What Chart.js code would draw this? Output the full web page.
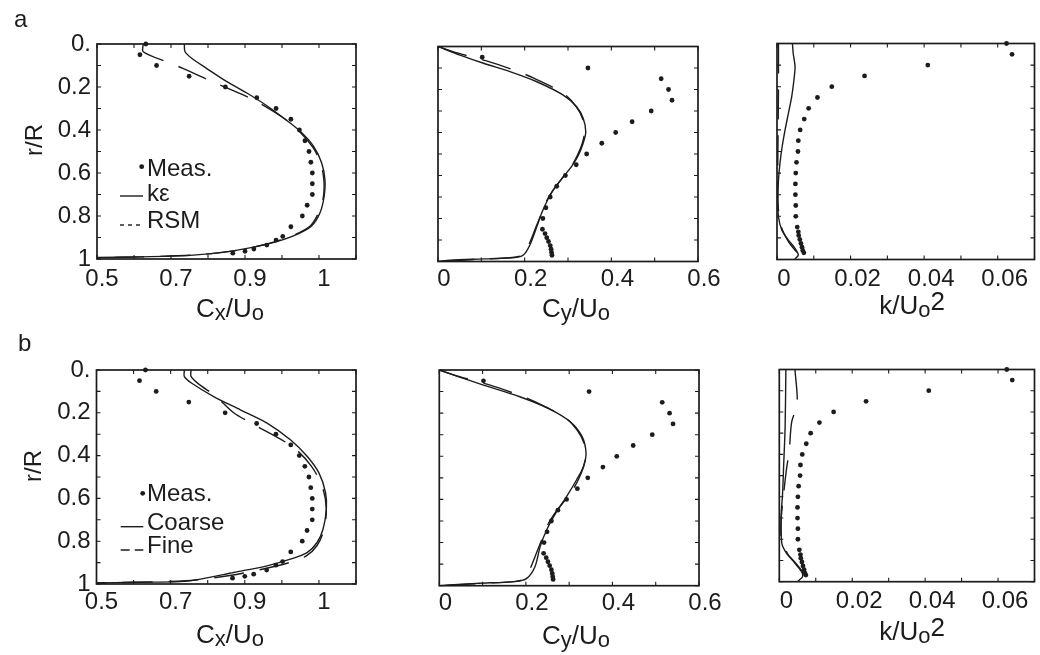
<!DOCTYPE html>
<html><head><meta charset="utf-8">
<script src="https://cdn.jsdelivr.net/npm/chart.js@4.4.1/dist/chart.umd.min.js"></script>
<style>
html,body{margin:0;padding:0;background:#fff;}
#wrap{position:relative;width:1040px;height:655px;overflow:hidden;background:#fff;}
#wrap canvas{position:absolute;}
</style></head><body><div id="wrap"></div>
<script>
// ---------------- tick values / labels ----------------
const rTicks = [0,0.1,0.2,0.3,0.4,0.5,0.6,0.7,0.8,0.9,1];
const rTickLabels = ['0.','','0.2','','0.4','','0.6','','0.8','','1'];
const cxTicks = [0.5,0.6,0.7,0.8,0.9,1.0,1.1,1.2];
const cxTickLabels = ['0.5','','0.7','','0.9','','1',''];
const cyTicks = [0,0.1,0.2,0.3,0.4,0.5,0.6];
const cyTickLabels = ['0','','0.2','','0.4','','0.6'];
const kTicks = [0,0.01,0.02,0.03,0.04,0.05,0.06,0.07];
const kTickLabels = ['0','','0.02','','0.04','','0.06',''];

// ---------------- measurements (same in a and b) ----------------
const cxMeasR = [0,0.05,0.1,0.15,0.2,0.25,0.3,0.35,0.4,0.45,0.5,0.55,0.6,0.65,0.7,0.75,0.8,0.85,0.895,0.912,0.935,0.954,0.964,0.973];
const cxMeas  = [0.632,0.616,0.661,0.749,0.847,0.932,0.984,1.024,1.047,1.062,1.073,1.078,1.082,1.082,1.082,1.068,1.055,1.024,1.002,0.984,0.959,0.924,0.900,0.867];
const cyMeasR = [0.05,0.1,0.15,0.2,0.25,0.3,0.35,0.4,0.45,0.5,0.55,0.6,0.65,0.7,0.75,0.8,0.85,0.87,0.889,0.907,0.926,0.943,0.958,0.971];
const cyMeas  = [0.102,0.346,0.515,0.532,0.540,0.492,0.448,0.410,0.378,0.343,0.319,0.294,0.274,0.259,0.249,0.242,0.241,0.247,0.251,0.255,0.259,0.261,0.262,0.263];
const kMeasR  = [0,0.05,0.1,0.15,0.2,0.25,0.3,0.35,0.4,0.45,0.5,0.55,0.6,0.65,0.7,0.75,0.8,0.85,0.872,0.889,0.907,0.926,0.943,0.958,0.969];
const kMeas   = [0.0624,0.0639,0.041,0.0238,0.0149,0.0110,0.0086,0.0074,0.0063,0.0058,0.0057,0.0053,0.0051,0.0050,0.0050,0.0051,0.0051,0.0055,0.0058,0.0059,0.0062,0.0065,0.0068,0.0070,0.0073];

// ---------------- (a) k-epsilon vs RSM ----------------
const cxKeR  = [0,0.036,0.066,0.113,0.175,0.228,0.287,0.344,0.406,0.475,0.552,0.630,0.707,0.784,0.846,0.892,0.931,0.962,0.982,0.990,0.993];
const cxKe   = [0.736,0.738,0.756,0.796,0.851,0.905,0.959,1.004,1.049,1.085,1.107,1.116,1.114,1.103,1.080,1.031,0.959,0.868,0.76,0.62,0.5];
const cxRsmR = [0,0.036,0.085,0.113,0.177,0.204,0.259,0.343,0.41,0.48,0.55,0.63,0.71,0.78,0.845,0.89,0.93,0.962,0.982,0.990,0.994];
const cxRsm  = [0.625,0.625,0.691,0.732,0.814,0.851,0.922,1.003,1.049,1.083,1.104,1.113,1.112,1.100,1.077,1.030,0.960,0.870,0.76,0.62,0.5];
const cyKeR  = [0,0.04,0.078,0.117,0.164,0.226,0.28,0.334,0.396,0.45,0.505,0.559,0.606,0.667,0.722,0.776,0.838,0.923,0.97,0.982,0.988,0.994,1.0];
const cyKe   = [0,0.051,0.105,0.166,0.228,0.289,0.32,0.335,0.341,0.335,0.324,0.308,0.289,0.266,0.251,0.239,0.228,0.212,0.197,0.178,0.105,0.028,0];
const cyRsmR = [0,0.03,0.067,0.117,0.148,0.218,0.277,0.342,0.40,0.45,0.505,0.56,0.61,0.67,0.72,0.78,0.84,0.92,0.968,0.98,0.99,1.0];
const cyRsm  = [0,0.045,0.112,0.185,0.222,0.289,0.318,0.335,0.338,0.333,0.322,0.307,0.288,0.265,0.25,0.238,0.226,0.21,0.196,0.176,0.09,0];
const kKeR   = [0,0.045,0.107,0.169,0.246,0.323,0.40,0.478,0.555,0.632,0.725,0.802,0.863,0.91,0.948,0.979,0.994,1.0];
const kKe    = [0.0042,0.0044,0.0049,0.0046,0.0040,0.0031,0.0022,0.0014,0.0008,0.0004,0.0002,0.0004,0.0013,0.0031,0.0049,0.0058,0.0051,0.0048];
const kRsmR  = [0,0.2,0.4,0.6,0.75,0.85,0.92,0.955,0.985,1.0];
const kRsm   = [0.0004,0.0004,0.0003,0.0002,0.0003,0.0012,0.0032,0.0048,0.0062,0.0052];

// ---------------- (b) coarse vs fine grid ----------------
const cxCoarseR = [0,0.031,0.062,0.124,0.186,0.248,0.326,0.403,0.481,0.574,0.651,0.744,0.806,0.853,0.884,0.915,0.946,0.977,0.989,0.992,0.995];
const cxCoarse  = [0.737,0.737,0.757,0.816,0.888,0.96,1.023,1.068,1.10,1.118,1.12,1.111,1.095,1.068,1.023,0.96,0.870,0.78,0.726,0.6,0.5];
const cxFineR   = [0,0.03,0.065,0.12,0.2,0.26,0.36,0.45,0.55,0.65,0.75,0.82,0.87,0.9,0.93,0.96,0.985,0.995];
const cxFine    = [0.755,0.755,0.775,0.82,0.87,0.93,1.03,1.08,1.11,1.12,1.113,1.095,1.065,1.02,0.95,0.86,0.74,0.5];
const cyCoarseR = [0,0.07,0.124,0.182,0.239,0.309,0.386,0.449,0.51,0.587,0.657,0.742,0.819,0.912,0.966,0.981,0.989,1.0];
const cyCoarse  = [0,0.102,0.186,0.256,0.302,0.33,0.339,0.333,0.317,0.294,0.271,0.248,0.233,0.221,0.202,0.175,0.086,0];
const cyFineR   = [0,0.03,0.067,0.117,0.148,0.218,0.277,0.342,0.40,0.45,0.505,0.56,0.61,0.67,0.72,0.78,0.84,0.92,0.968,0.98,0.99,1.0];
const cyFine    = [0,0.045,0.112,0.185,0.222,0.289,0.318,0.335,0.338,0.333,0.322,0.307,0.288,0.265,0.25,0.238,0.226,0.21,0.196,0.176,0.09,0];
const kCoarseR  = [0,0.27,0.45,0.584,0.694,0.819,0.866,0.913,0.953,0.976,0.992,1.0];
const kCoarse   = [0.0018,0.0016,0.0012,0.0009,0.0005,0.0007,0.002,0.0043,0.0061,0.0064,0.0055,0.005];
const kFineR    = [0,0.16,0.247,0.388,0.466,0.6,0.71,0.80,0.866,0.913,0.953,0.976,0.992,1.0];
const kFine     = [0.0043,0.0049,0.0034,0.0027,0.002,0.0011,0.0005,0.0006,0.0022,0.0045,0.0063,0.0065,0.0056,0.005];

// ---------------- rendering ----------------
const FONT = "'Liberation Sans', Arial, Helvetica, sans-serif";
const INK = '#1c1c1c';
const TICK_LEN = 4;
const TICK_FONT = 24;

function pts(xs, rs){ return xs.map((v,i)=>({x:v, y:rs[i]})); }
function measSet(xs, rs){ return {data:pts(xs,rs), showLine:false, pointRadius:2.4, pointBackgroundColor:INK, pointBorderWidth:0, clip:false}; }
function lineSet(xs, rs, dash){ return {data:pts(xs,rs), showLine:true, pointRadius:0, borderColor:INK, borderWidth:1.4, tension:0.3, borderDash:dash||[], fill:false}; }

function drawRich(ctx, it){
  const main = it.size || 24;
  const parts = it.parts;
  let total = 0;
  parts.forEach(p=>{ ctx.font = (p.s||main)+'px '+FONT; p._w = ctx.measureText(p.t).width; total += p._w; });
  ctx.save();
  ctx.translate(it.x, it.y);
  if (it.rot) ctx.rotate(it.rot);
  let x = it.align==='left' ? 0 : -total/2;
  const base = 0.36*main;
  ctx.fillStyle = INK; ctx.textBaseline = 'alphabetic'; ctx.textAlign='left';
  parts.forEach(p=>{ ctx.font = (p.s||main)+'px '+FONT; ctx.fillText(p.t, x, base + (p.dy||0)); x += p._w; });
  ctx.restore();
}

const decor = {
  id:'decor',
  beforeDatasetsDraw(chart){
    const {ctx, chartArea:{left,top,right,bottom}, scales:{x:xs, y:ys}} = chart;
    ctx.save();
    ctx.strokeStyle = INK; ctx.lineWidth = 1.1;
    ctx.beginPath();
    xs.ticks.forEach(t=>{ const p = xs.getPixelForValue(t.value); ctx.moveTo(p,bottom); ctx.lineTo(p,bottom-TICK_LEN); ctx.moveTo(p,top); ctx.lineTo(p,top+TICK_LEN); });
    ys.ticks.forEach(t=>{ const p = ys.getPixelForValue(t.value); ctx.moveTo(left,p); ctx.lineTo(left+TICK_LEN,p); ctx.moveTo(right,p); ctx.lineTo(right-TICK_LEN,p); });
    ctx.stroke();
    ctx.lineWidth = 1.7;
    ctx.strokeRect(left, top, right-left, bottom-top);
    ctx.restore();
  },
  afterDraw(chart, args, opts){
    const ctx = chart.ctx;
    ctx.save();
    (opts.keys||[]).forEach(k=>{
      if (k.type==='dot'){ ctx.fillStyle=INK; ctx.beginPath(); ctx.arc(k.x,k.y,2.4,0,Math.PI*2); ctx.fill(); }
      else { ctx.strokeStyle=INK; ctx.lineWidth=1.4; ctx.setLineDash(k.dash||[]); ctx.beginPath(); ctx.moveTo(k.x1,k.y); ctx.lineTo(k.x2,k.y); ctx.stroke(); ctx.setLineDash([]); }
    });
    (opts.texts||[]).forEach(t=>drawRich(ctx,t));
    ctx.restore();
  }
};

const DASH = [30,16];
const TT = 26, SUB = 22, SUBDY = 3;
const cxTitle = [{t:'C'},{t:'x',s:SUB,dy:SUBDY},{t:'/U'},{t:'o',s:SUB,dy:SUBDY}];
const cyTitle = [{t:'C'},{t:'y',s:SUB,dy:SUBDY},{t:'/U'},{t:'o',s:SUB,dy:SUBDY}];
const kTitle  = [{t:'k/U'},{t:'o',s:SUB,dy:SUBDY},{t:'2',dy:-4}];

const panels = [
  {x:0, y:0, w:370, h:335, area:{l:97,t:44,r:356,b:259}, xmin:0.5, xmax:1.2, xt:cxTicks, xl:cxTickLabels, xpad:6, xoff:5, ylab:true,
   datasets:[measSet(cxMeas,cxMeasR), lineSet(cxKe,cxKeR), lineSet(cxRsm,cxRsmR,DASH)],
   texts:[{x:14,y:18,align:'left',parts:[{t:'a'}]}, {x:33,y:140,rot:-Math.PI/2,parts:[{t:'r/R'}]}, {x:230,y:308,size:TT,parts:cxTitle},
          {x:147,y:167,align:'left',parts:[{t:'Meas.'}]}, {x:147,y:192,align:'left',parts:[{t:'kε'}]}, {x:147,y:219,align:'left',parts:[{t:'RSM'}]}],
   keys:[{type:'dot',x:141.7,y:166.7},{type:'line',x1:120,x2:143,y:196},{type:'line',x1:120,x2:143,y:225,dash:[4,4]}]},
  {x:370, y:0, w:365, h:335, area:{l:68,t:46.5,r:328,b:261.5}, xmin:0, xmax:0.6, xt:cyTicks, xl:cyTickLabels, xpad:3.5, xoff:6, ylab:false,
   datasets:[measSet(cyMeas,cyMeasR), lineSet(cyKe,cyKeR), lineSet(cyRsm,cyRsmR,DASH)],
   texts:[{x:206,y:308,size:TT,parts:cyTitle}], keys:[]},
  {x:715, y:0, w:325, h:335, area:{l:62,t:43.5,r:321,b:259.5}, xmin:0, xmax:0.07, xt:kTicks, xl:kTickLabels, xpad:5.5, xoff:7, ylab:false,
   datasets:[measSet(kMeas,kMeasR), lineSet(kKe,kKeR), lineSet(kRsm,kRsmR,DASH)],
   texts:[{x:197,y:305,size:TT,parts:kTitle}], keys:[]},
  {x:0, y:325, w:370, h:330, area:{l:96.5,t:45,r:356,b:259}, xmin:0.5, xmax:1.2, xt:cxTicks, xl:cxTickLabels, xpad:3.5, xoff:5, ylab:true,
   datasets:[measSet(cxMeas,cxMeasR), lineSet(cxCoarse,cxCoarseR), lineSet(cxFine,cxFineR,DASH)],
   texts:[{x:18,y:17,align:'left',parts:[{t:'b'}]}, {x:32,y:141,rot:-Math.PI/2,parts:[{t:'r/R'}]}, {x:230,y:309,size:TT,parts:cxTitle},
          {x:147,y:167.5,align:'left',parts:[{t:'Meas.'}]}, {x:147,y:196.5,align:'left',parts:[{t:'Coarse'}]}, {x:147,y:219,align:'left',parts:[{t:'Fine'}]}],
   keys:[{type:'dot',x:142.7,y:168.3},{type:'line',x1:120.7,x2:143.3,y:201.7},{type:'line',x1:120.7,x2:143.3,y:225,dash:[9,5]}]},
  {x:370, y:325, w:365, h:330, area:{l:69.3,t:45,r:329,b:260.7}, xmin:0, xmax:0.6, xt:cyTicks, xl:cyTickLabels, xpad:3.5, xoff:6, ylab:false,
   datasets:[measSet(cyMeas,cyMeasR), lineSet(cyCoarse,cyCoarseR), lineSet(cyFine,cyFineR,DASH)],
   texts:[{x:206,y:310,size:TT,parts:cyTitle}], keys:[]},
  {x:715, y:325, w:325, h:330, area:{l:64.3,t:44.5,r:320,b:256.7}, xmin:0, xmax:0.07, xt:kTicks, xl:kTickLabels, xpad:5.5, xoff:7, ylab:false,
   datasets:[measSet(kMeas,kMeasR), lineSet(kCoarse,kCoarseR), lineSet(kFine,kFineR,DASH)],
   texts:[{x:197,y:306,size:TT,parts:kTitle}], keys:[]}
];

const wrap = document.getElementById('wrap');
panels.forEach(p=>{
  const c = document.createElement('canvas');
  c.width = p.w; c.height = p.h;
  c.style.left = p.x+'px'; c.style.top = p.y+'px';
  c.style.width = p.w+'px'; c.style.height = p.h+'px';
  wrap.appendChild(c);
  const A = p.area;
  new Chart(c, {
    type:'scatter',
    data:{datasets:p.datasets},
    options:{
      responsive:false, animation:false, devicePixelRatio:1,
      layout:{padding:{left:0, top:A.t, right:p.w-A.r, bottom:0}},
      plugins:{legend:{display:false}, tooltip:{enabled:false}, decor:{texts:p.texts, keys:p.keys}},
      scales:{
        x:{type:'linear', position:'bottom', min:p.xmin, max:p.xmax,
           grid:{display:false, drawTicks:false, tickLength:0}, border:{display:false},
           afterBuildTicks:s=>{ s.ticks = p.xt.map(v=>({value:v})); },
           afterFit:s=>{ s.height = p.h - A.b; },
           ticks:{autoSkip:false, maxRotation:0, minRotation:0, padding:p.xpad, labelOffset:p.xoff,
                  font:{family:FONT, size:TICK_FONT}, color:INK, callback:(v,i)=>p.xl[i]}},
        y:{type:'linear', position:'left', reverse:true, min:0, max:1,
           grid:{display:false, drawTicks:false, tickLength:0}, border:{display:false},
           afterBuildTicks:s=>{ s.ticks = rTicks.map(v=>({value:v})); },
           afterFit:s=>{ s.width = A.l; },
           ticks:{display:p.ylab, autoSkip:false, padding:6, font:{family:FONT, size:TICK_FONT}, color:INK, callback:(v,i)=>rTickLabels[i]}}
      }
    },
    plugins:[decor]
  });
});
</script></body></html>
